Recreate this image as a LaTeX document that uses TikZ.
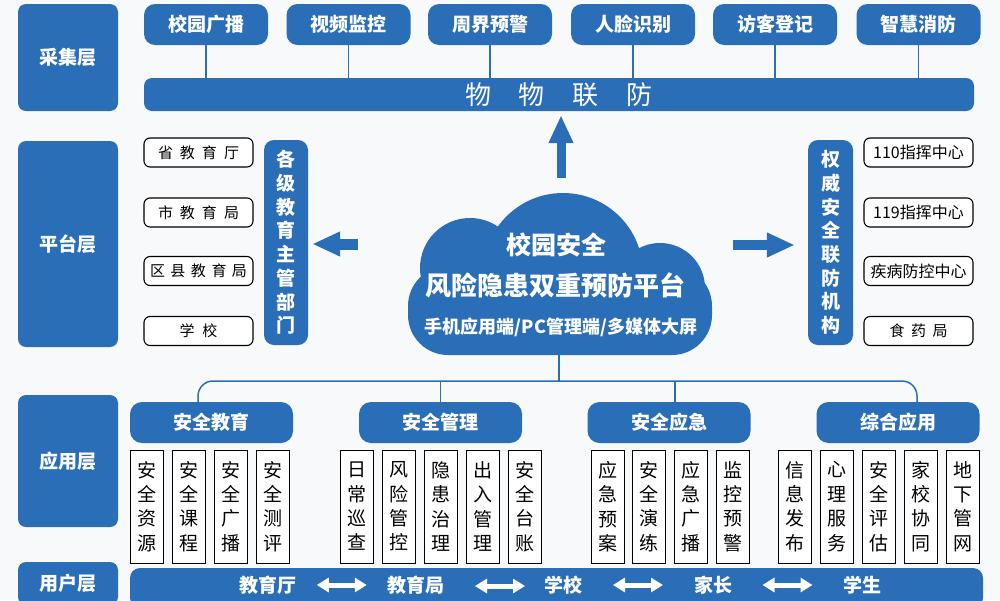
\documentclass[tikz,border=0pt]{standalone}
\usepackage{fontspec}
\newfontfamily\cjk{Noto Sans CJK SC}
\usetikzlibrary{arrows.meta,calc}
\definecolor{mblue}{RGB}{43,110,184}
\definecolor{bgc}{RGB}{248,249,251}
\newcommand\myfs[2]{\fontsize{#1}{#2}\selectfont}
\newcommand\vt[4]{#1\\#2\\#3\\#4}
\newcommand\sg{\hspace{7pt}}
\newcommand\sgs{\hspace{5.5pt}}
\tikzset{
  bluebox/.style={fill=mblue, rounded corners=8pt, inner sep=0pt, text=white},
  layerbox/.style={bluebox, minimum width=100pt, font=\cjk\bfseries\myfs{19}{22}},
  topbox/.style={bluebox, rounded corners=11pt, minimum width=124pt, minimum height=41pt, font=\cjk\bfseries\myfs{19}{22}},
  wbox/.style={draw=black, line width=1.1pt, fill=white, rounded corners=6pt, minimum width=109pt, minimum height=29pt, inner sep=0pt, font=\cjk\myfs{15}{18}},
  vbox/.style={bluebox, rounded corners=10pt, minimum height=205pt, align=center, font=\cjk\bfseries\myfs{19}{23.7}},
  catbox/.style={bluebox, rounded corners=12pt, minimum width=163pt, minimum height=41pt, font=\cjk\bfseries\myfs{19}{22}},
  item/.style={draw=black, line width=1pt, fill=white, minimum width=33pt, minimum height=113pt, inner sep=0pt, align=center, font=\cjk\myfs{19}{24.4}},
  ulabel/.style={text=white, inner sep=0pt, font=\cjk\bfseries\myfs{19}{22}},
  link/.style={draw=mblue, line width=1.3pt},
  tree/.style={draw=mblue, line width=1.5pt},
  barrow/.style={draw=mblue, line width=10pt, -{Triangle[width=23pt,length=28pt]}},
  dblarrow/.style={draw=white, line width=5pt, {Triangle[width=14pt,length=12pt]}-{Triangle[width=14pt,length=12pt]}}
}
\begin{document}
\begin{tikzpicture}[x=1pt,y=-1pt]
\fill[bgc] (0,0) rectangle (1000,600);
\useasboundingbox (0,0) rectangle (1000,600);

% layer labels
\node[layerbox, minimum height=107pt] (L1) at (68,57.5) {采集层};
\node[layerbox, minimum height=206pt] (L2) at (68,244) {平台层};
\node[layerbox, minimum height=132pt] (L3) at (68,461) {应用层};
\node[layerbox, minimum height=43pt] (L4) at (68,583.5) {用户层};

% collection layer
\node[bluebox, minimum width=830pt, minimum height=33pt, font=\cjk\myfs{26}{30}] (bar) at (559,94.5) {物\hspace{28pt}物\hspace{28pt}联\hspace{28pt}防};
\foreach \x/\t/\n in {206/校园广播/t1, 348.5/视频监控/t2, 490/周界预警/t3, 633/人脸识别/t4, 775/访客登记/t5, 918.5/智慧消防/t6}{
  \node[topbox] (\n) at (\x,24.5) {\t};
  \draw[link] (\n.south) -- (\n.south |- bar.north);
}

% platform layer left
\node[wbox] (p1) at (198.5,152.5) {省\sg 教\sg 育\sg 厅};
\node[wbox] (p2) at (198.5,212.5) {市\sg 教\sg 育\sg 局};
\node[wbox] (p3) at (198.5,271) {区\sgs 县\sgs 教\sgs 育\sgs 局};
\node[wbox] (p4) at (198.5,331) {学\hspace{8pt}校};
\node[vbox, minimum width=44pt] (v1) at (286,242.5) {各\\级\\教\\育\\主\\管\\部\\门};

% platform layer right
\node[wbox, font=\cjk\myfs{16}{18}] (q1) at (918.5,152.5) {110指挥中心};
\node[wbox, font=\cjk\myfs{16}{18}] (q2) at (918.5,212.5) {119指挥中心};
\node[wbox, font=\cjk\myfs{16}{18}] (q3) at (918.5,271) {疾病防控中心};
\node[wbox] (q4) at (918.5,331) {食\hspace{6.5pt}药\hspace{6.5pt}局};
\node[vbox, minimum width=45pt] (v2) at (830.5,242.5) {权\\威\\安\\全\\联\\防\\机\\构};

% cloud
\fill[mblue] (563,273) circle[radius=80pt];
\fill[mblue] (470,268) circle[radius=50pt];
\fill[mblue] (660,288) circle[radius=45pt];
\fill[mblue, rounded corners=40pt] (408,266) rectangle (712,355);
\node[text=white, inner sep=0pt, font=\cjk\bfseries\myfs{25}{28}] (cl1) at (556,245) {校园安全};
\node[text=white, inner sep=0pt, font=\cjk\bfseries\myfs{26}{28}] (cl2) at (555,285) {风险隐患双重预防平台};
\node[text=white, inner sep=0pt, font=\cjk\bfseries\myfs{18}{20}] (cl3) at (561,327) {手机应用端/PC管理端/多媒体大屏};
\coordinate (cb) at (559,355);
\coordinate (hub) at (559,381);

% block arrows
\coordinate (ua) at (561,178);
\draw[barrow, line width=9pt, shorten >=4pt] (ua) -- (ua |- bar.south);
\coordinate (la) at (358,244);
\draw[barrow, line width=11pt, shorten >=4pt] (la) -- (v1.east |- la);
\coordinate (ra) at (733,245);
\draw[barrow, shorten >=13pt] (ra) -- (v2.west |- ra);

% application layer
\node[catbox] (c1) at (211.5,422.5) {安全教育};
\node[catbox] (c2) at (440.5,422.5) {安全管理};
\node[catbox] (c3) at (669,422.5) {安全应急};
\node[catbox] (c4) at (898,422.5) {综合应用};

\draw[tree] (cb) -- (hub);
\draw[tree, rounded corners=15pt] ($(c1.north)+(-13.5,0)$) |- (hub) -| ($(c4.north)+(19,0)$);
\draw[tree] (c2.north) -- (c2.north |- hub);
\draw[tree] ($(c3.north)+(6,0)$) -- ($(c3.north |- hub)+(6,0)$);

\node[item] (a1) at (146.5,506.5) {\vt 安全资源};
\node[item] (a2) at (188.5,506.5) {\vt 安全课程};
\node[item] (a3) at (230.5,506.5) {\vt 安全广播};
\node[item] (a4) at (272.5,506.5) {\vt 安全测评};

\node[item] (b1) at (356.5,506.5) {\vt 日常巡查};
\node[item] (b2) at (398.5,506.5) {\vt 风险管控};
\node[item] (b3) at (440.5,506.5) {\vt 隐患治理};
\node[item] (b4) at (482.5,506.5) {\vt 出入管理};
\node[item] (b5) at (524.5,506.5) {\vt 安全台账};

\node[item] (d1) at (607.5,506.5) {\vt 应急预案};
\node[item] (d2) at (649,506.5) {\vt 安全演练};
\node[item] (d3) at (690.5,506.5) {\vt 应急广播};
\node[item] (d4) at (732.5,506.5) {\vt 监控预警};

\node[item] (e1) at (794.5,506.5) {\vt 信息发布};
\node[item] (e2) at (836.5,506.5) {\vt 心理服务};
\node[item] (e3) at (878.5,506.5) {\vt 安全评估};
\node[item] (e4) at (920.5,506.5) {\vt 家校协同};
\node[item] (e5) at (963,506.5) {\vt 地下管网};

% user layer
\node[bluebox, rounded corners=10pt, minimum width=853pt, minimum height=40pt] (ubar) at (556.5,588) {};
\node[ulabel] (u1) at (267.5,585) {教育厅};
\node[ulabel] (u2) at (416,585) {教育局};
\node[ulabel] (u3) at (563,585) {学校};
\node[ulabel] (u4) at (713,585) {家长};
\node[ulabel] (u5) at (862,585) {学生};
\coordinate (m1) at ($(u1.east)!0.5!(u2.west)$);
\coordinate (m2) at (500,586);
\coordinate (m3) at ($(u3.east)!0.5!(u4.west)$);
\coordinate (m4) at ($(u4.east)!0.5!(u5.west)$);
\draw[dblarrow] ([xshift=-25pt]m1) -- ([xshift=25pt]m1);
\draw[dblarrow] ([xshift=-25pt]m2) -- ([xshift=25pt]m2);
\draw[dblarrow] ([xshift=-25pt]m3) -- ([xshift=25pt]m3);
\draw[dblarrow] ([xshift=-25pt]m4) -- ([xshift=25pt]m4);
\end{tikzpicture}
\end{document}
